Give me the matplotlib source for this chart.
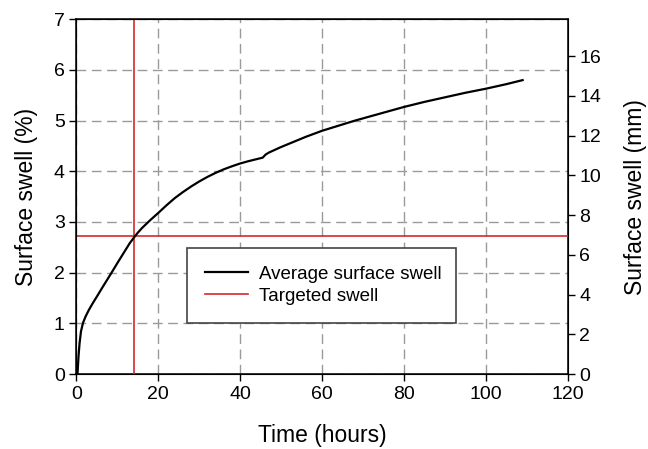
import matplotlib.pyplot as plt

plt.rcParams['font.family'] = ['Liberation Sans', 'DejaVu Sans']

# data
time_h = [0.0, 0.25, 0.5, 0.75, 1.1, 1.6, 2.2, 3.0, 4.0, 5.0, 6.5, 8.5, 10.0, 12.0,
          13.0, 14.2, 15.0, 16.0, 18.0, 20.0, 22.0, 24.0, 26.0, 28.0, 30.0, 32.0,
          34.0, 36.0, 38.0, 40.0, 42.0, 44.0, 45.5, 46.2, 47.0, 50.0, 53.0, 56.0,
          60.0, 64.0, 68.0, 72.0, 76.0, 80.0, 85.0, 90.0, 95.0, 100.0, 105.0, 109.0]
swell_pct = [0.0, 0.0, 0.35, 0.6, 0.84, 1.01, 1.13, 1.26, 1.40, 1.53, 1.73, 1.99, 2.19, 2.45,
             2.58, 2.71, 2.79, 2.88, 3.035, 3.18, 3.33, 3.47, 3.59, 3.70, 3.80, 3.89,
             3.97, 4.04, 4.10, 4.155, 4.20, 4.24, 4.27, 4.33, 4.37, 4.48, 4.58, 4.68,
             4.80, 4.90, 5.00, 5.09, 5.18, 5.27, 5.37, 5.46, 5.55, 5.63, 5.72, 5.80]

target_time = 14.0
target_swell = 2.72
mm_per_pct = 2.55

fig = plt.figure(figsize=(6.48, 4.49), dpi=100)
ax = fig.add_axes([0.118, 0.167, 0.758, 0.790])

ax.plot(time_h, swell_pct, color='black', lw=1.6, label='Average surface swell', zorder=4)
ax.axhline(target_swell, color='#d42a2a', lw=1.2, label='Targeted swell', zorder=3)
ax.axvline(target_time, color='#d42a2a', lw=1.2, zorder=3)

ax.set_xlim(0, 120)
ax.set_ylim(0, 7)
ax.set_xticks(range(0, 121, 20))
ax.set_yticks(range(0, 8))
ax.grid(True, color='#9a9a9a', ls=(0, (7, 4)), lw=1.0)
ax.set_axisbelow(True)
ax.tick_params(direction='out', labelsize=14, length=5, width=1)
ax.set_xlabel('Time (hours)', fontsize=16.5, labelpad=15)
ax.set_ylabel('Surface swell (%)', fontsize=16.5, labelpad=11)
for s in ax.spines.values():
    s.set_linewidth(1.1)

ax2 = ax.twinx()
ax2.set_ylim(0, 7 * mm_per_pct)
ax2.set_yticks(range(0, 17, 2))
ax2.tick_params(direction='out', labelsize=14, length=5, width=1)
ax2.set_ylabel('Surface swell (mm)', fontsize=16.5, labelpad=16)

leg = ax.legend(loc='lower left', bbox_to_anchor=(0.225, 0.145, 0.548, 0.202),
                mode='expand', fontsize=13.5, fancybox=False, framealpha=1,
                edgecolor='#444444', handlelength=2.3, handletextpad=0.6,
                borderpad=0.95, labelspacing=0.25, borderaxespad=0)
leg.get_frame().set_linewidth(1.2)

fig.savefig('out.png', dpi=100)
